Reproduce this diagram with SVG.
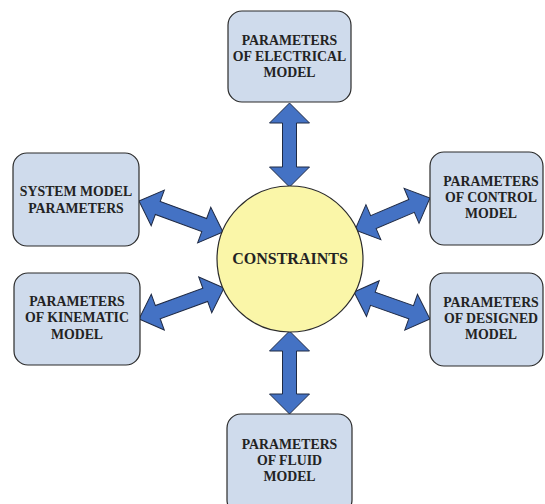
<svg xmlns="http://www.w3.org/2000/svg" width="545" height="504" viewBox="0 0 545 504">
  <style>
    .box { fill: #cfdbec; stroke: #2b2b2b; stroke-width: 1.2; }
    .hub { fill: #faf6a8; stroke: #2b2b2b; stroke-width: 1.2; }
    .arrow { fill: #4472c4; stroke: #1f2a44; stroke-width: 1; stroke-linejoin: miter; }
    text { font-family: "Liberation Serif", "Times New Roman", serif; font-weight: bold; fill: #232323; text-anchor: middle; }
    .lbl { font-size: 13.8px; }
    .hub-lbl { font-size: 16px; }
  </style>
  <rect width="545" height="504" fill="#ffffff"/>

  <!-- double-headed connectors: local x runs from one tip to the other -->
  <g id="connectors">
    <polygon class="arrow" transform="translate(289.5,103) rotate(90)" points="0,0 20,-20 20,-7 64,-7 64,-20 84,0 64,20 64,7 20,7 20,20"/>
    <polygon class="arrow" transform="translate(289.5,331) rotate(90)" points="0,0 20,-20 20,-7 63,-7 63,-20 83,0 63,20 63,7 20,7 20,20"/>
    <polygon class="arrow" transform="translate(139,201) rotate(20.25)" points="0,0 20,-19 20,-7 69.5,-7 69.5,-19 89.5,0 69.5,19 69.5,7 20,7 20,19"/>
    <polygon class="arrow" transform="translate(139,319) rotate(-20.04)" points="0,0 20,-19 20,-7 70.5,-7 70.5,-19 90.5,0 70.5,19 70.5,7 20,7 20,19"/>
    <polygon class="arrow" transform="translate(355,230) rotate(-23.1)" points="0,0 20,-19 20,-7 61.5,-7 61.5,-19 81.5,0 61.5,19 61.5,7 20,7 20,19"/>
    <polygon class="arrow" transform="translate(354,292) rotate(19.56)" points="0,0 20,-19 20,-7 60.6,-7 60.6,-19 80.6,0 60.6,19 60.6,7 20,7 20,19"/>
  </g>

  <g id="constraints">
    <circle class="hub" cx="290" cy="259" r="73"/>
    <text class="hub-lbl" x="290" y="264">CONSTRAINTS</text>
  </g>

  <g id="electrical">
    <rect class="box" x="228" y="11" width="123" height="91" rx="14"/>
    <text class="lbl" x="289.5" y="45">PARAMETERS</text>
    <text class="lbl" x="289.5" y="61">OF ELECTRICAL</text>
    <text class="lbl" x="289.5" y="77">MODEL</text>
  </g>

  <g id="system">
    <rect class="box" x="13" y="153" width="126" height="93" rx="14"/>
    <text class="lbl" x="76" y="196">SYSTEM MODEL</text>
    <text class="lbl" x="76" y="213">PARAMETERS</text>
  </g>

  <g id="control">
    <rect class="box" x="430" y="152" width="113" height="93" rx="14"/>
    <text class="lbl" x="491" y="186">PARAMETERS</text>
    <text class="lbl" x="491" y="202">OF CONTROL</text>
    <text class="lbl" x="491" y="218">MODEL</text>
  </g>

  <g id="kinematic">
    <rect class="box" x="14" y="273" width="126" height="92" rx="14"/>
    <text class="lbl" x="77" y="306">PARAMETERS</text>
    <text class="lbl" x="77" y="322">OF KINEMATIC</text>
    <text class="lbl" x="77" y="339">MODEL</text>
  </g>

  <g id="designed">
    <rect class="box" x="430" y="273" width="113" height="93" rx="14"/>
    <text class="lbl" x="491" y="307">PARAMETERS</text>
    <text class="lbl" x="491" y="323">OF DESIGNED</text>
    <text class="lbl" x="491" y="339">MODEL</text>
  </g>

  <g id="fluid">
    <rect class="box" x="227" y="414" width="125" height="100" rx="14"/>
    <text class="lbl" x="289.5" y="449">PARAMETERS</text>
    <text class="lbl" x="289.5" y="465">OF FLUID</text>
    <text class="lbl" x="289.5" y="481">MODEL</text>
  </g>
</svg>
